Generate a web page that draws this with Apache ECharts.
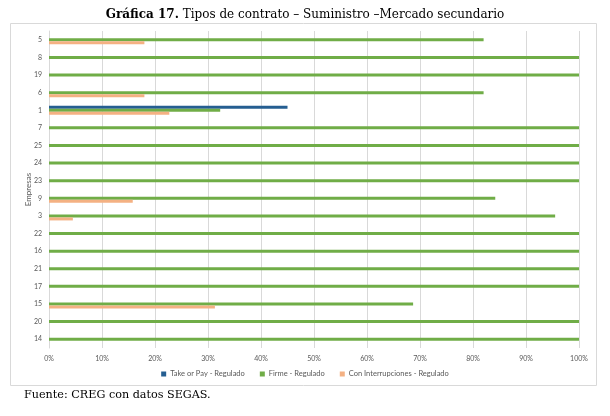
<!DOCTYPE html>
<html>
<head>
<meta charset="utf-8">
<script type="text/javascript" src="https://cdn.jsdelivr.net/npm/echarts/dist/echarts.min.js"></script>
<style>
html, body { margin: 0; padding: 0; background: #fff; }
</style>
</head>
<body>
<div id="container-bars" style="width:610px; height:416px;"></div>

<script type="text/javascript">
// empresas, de arriba hacia abajo
var empresas = ['5', '8', '19', '6', '1', '7', '25', '24', '23', '9', '3', '22', '16', '21', '17', '15', '20', '14'];

// participacion (%) por tipo de contrato
var takeOrPay      = [0, 0, 0, 0, 45, 0, 0, 0, 0, 0, 0, 0, 0, 0, 0, 0, 0, 0];
var firme          = [82, 100, 100, 82, 32.3, 100, 100, 100, 100, 84.2, 95.5, 100, 100, 100, 100, 68.7, 100, 100];
var interrupciones = [18, 0, 0, 18, 22.7, 0, 0, 0, 0, 15.8, 4.5, 0, 0, 0, 0, 31.3, 0, 0];

var xTicks = [0, 10, 20, 30, 40, 50, 60, 70, 80, 90, 100];

var dom = document.getElementById("container-bars");
var myChart = echarts.init(dom);
var option = null;

var labelFont = 'Lato, "Open Sans", sans-serif';

option = {
	animation: false,
	title: {
		text: '{b|Gráfica 17.} Tipos de contrato – Suministro –Mercado secundario',
		left: 'center',
		top: 4,
		textStyle: {
			fontFamily: '"DejaVu Serif", serif',
			fontWeight: 'normal',
			fontSize: 12,
			color: '#000',
			rich: {
				b: { fontFamily: '"DejaVu Serif", serif', fontWeight: 'bold', fontSize: 12, color: '#000' }
			}
		}
	},
	graphic: [
		{
			type: 'rect',
			shape: { x: 10.5, y: 23.5, width: 586, height: 362 },
			style: { fill: 'none', stroke: '#d9d9d9', lineWidth: 1 },
			z: -1
		},
		{
			type: 'text',
			left: 24,
			top: 390,
			style: {
				text: 'Fuente: CREG con datos SEGAS.',
				font: '11.2px "DejaVu Serif", serif',
				fill: '#000'
			}
		}
	],
	legend: {
		bottom: 33,
		left: 'center',
		itemWidth: 5,
		itemHeight: 5,
		itemGap: 15,
		icon: 'rect',
		textStyle: { fontFamily: labelFont, fontSize: 7.5, color: '#595959', padding: [0, 0, 0, -1] },
		data: ['Take or Pay - Regulado', 'Firme - Regulado', 'Con Interrupciones - Regulado']
	},
	grid: {
		left: 49,
		right: 31,
		top: 31,
		bottom: 68
	},
	xAxis: {
		type: 'value',
		min: 0,
		max: 100,
		interval: 10,
		axisLine: { show: false },
		axisTick: { show: false },
		splitLine: { lineStyle: { color: '#d9d9d9' } },
		axisLabel: {
			fontFamily: labelFont,
			fontSize: 7,
			color: '#595959',
			margin: 7,
			formatter: function (v) {
				return xTicks.indexOf(v) >= 0 ? v + '%' : '';
			}
		}
	},
	yAxis: {
		type: 'category',
		inverse: true,
		data: empresas,
		name: 'Empresas',
		nameLocation: 'middle',
		nameGap: 17,
		nameMoveOverlap: false,
		nameTextStyle: { fontFamily: labelFont, fontSize: 8, color: '#595959' },
		axisLine: { show: true, lineStyle: { color: '#d9d9d9' } },
		axisTick: { show: false },
		axisLabel: { fontFamily: labelFont, fontSize: 7, color: '#595959', margin: 7 }
	},
	series: [
		{
			name: 'Take or Pay - Regulado',
			type: 'bar',
			data: takeOrPay,
			barWidth: 3,
			barGap: '0%',
			itemStyle: { color: '#255e91' }
		},
		{
			name: 'Firme - Regulado',
			type: 'bar',
			data: firme,
			barWidth: 3,
			barGap: '0%',
			itemStyle: { color: '#70ad47' }
		},
		{
			name: 'Con Interrupciones - Regulado',
			type: 'bar',
			data: interrupciones,
			barWidth: 3,
			barGap: '0%',
			itemStyle: { color: '#f4b183' }
		}
	]
};

if (option && typeof option === "object") {
	myChart.setOption(option, true);
}
</script>
</body>
</html>
